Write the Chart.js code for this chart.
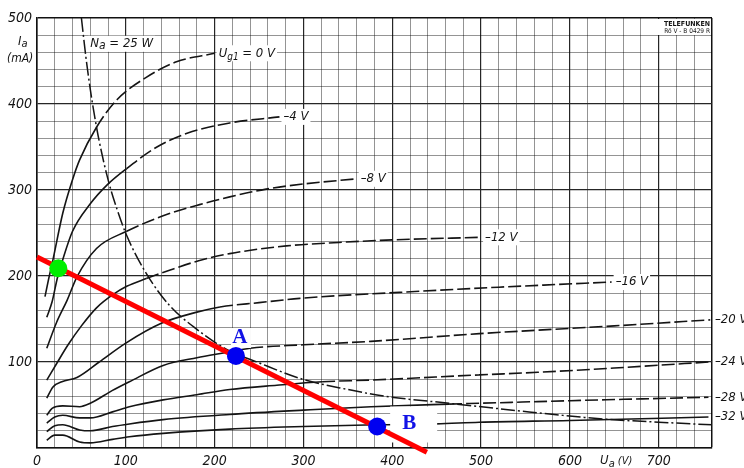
<!DOCTYPE html>
<html><head><meta charset="utf-8">
<script src="https://cdn.jsdelivr.net/npm/chart.js@4.4.1/dist/chart.umd.min.js"></script>
<style>html,body{margin:0;padding:0;background:#fff;}canvas{display:block;}</style>
</head><body>
<canvas id="c" width="744" height="468"></canvas>
<script>
// ---- data (Ua in V, Ia in mA) ----
const xTickValues = [0, 100, 200, 300, 400, 500, 600, 700];
const yTickValues = [100, 200, 300, 400, 500];
const gridVoltages = [0, -4, -8, -12, -16, -20, -24, -28, -32];

const ug0  = [[9,176],[13,196],[18,219],[29,273],[40,312],[48,335],[67,373],[90,405],[123,431],[157,449],[200,459]];
const ug4  = [[11,152],[17,170],[23,198],[29,219],[40,252],[60,284],[79,306],[101,325],[135,350],[169,366],[217,378],[273,385]];
const ug8  = [[11,116],[22,146],[34,172],[45,199],[67,232],[101,252],[142,270],[183,283],[217,292],[258,301],[300,307],[360,313]];
const ug12 = [[11,79],[22,98],[35,120],[50,142],[67,163],[85,178],[101,188],[123,197],[150,207],[183,218],[217,226],[281,235],[340,239],[400,242],[500,245]];
const ug16 = [[11,58],[18,71],[28,77],[45,82],[70,100],[100,122],[140,145],[180,158],[206,164],[250,169],[296,174],[408,181],[520,187],[647,193]];
const ug20 = [[11,38],[17,46],[29,49],[48,48],[60,52],[85,67],[104,77],[142,96],[180,105],[213,111],[240,116],[300,120],[376,124],[498,133],[564,137],[650,142],[758,149]];
const ug24 = [[11,29],[20,36],[29,38],[48,35],[60,35],[85,42],[104,48],[142,56],[180,62],[217,68],[270,73],[321,77],[376,79],[498,85],[564,88],[650,93],[756,100]];
const ug28 = [[11,19],[20,26],[29,27],[48,21],[60,20],[85,25],[104,28],[142,33],[217,39],[300,44],[376,48],[464,51],[498,52],[600,55],[756,59]];
const ug32 = [[11,9],[20,15],[29,15],[48,7],[60,6],[85,10],[104,13],[142,17],[217,22],[300,25],[382,27],[450,28],[498,30],[600,32],[756,36]];
const dashStart = [67, 85, 101, 110, 195, 225, 320, 450, 99999];

const na25 = [[50,500],[55,455],[60,417],[65,385],[70,357],[80,312],[90,278],[101,247],[123,203],[149,166],[180,138],[213,115],[250,99],[299,80],[350,68],[393,60],[464,52],[554,42],[634,34],[700,30],[760,27]];

const loadLine = [[0,222],[439,-5]];
const pointGreen = [[24,209]];
const pointA = [[224,107]];
const pointB = [[383,25]];

// ---- build ----
const curves = [ug0, ug4, ug8, ug12, ug16, ug20, ug24, ug28, ug32];
const toXY = a => a.map(p => ({x: p[0], y: p[1]}));
const FONT = "'DejaVu Sans Condensed','Liberation Sans Narrow','DejaVu Sans',sans-serif";
const fnt = (s, st) => `${st || 'italic'} ${s}px ${FONT}`;
const INK = '#141414';

const datasets = [];
curves.forEach((c, i) => {
  const ds = dashStart[i];
  datasets.push({
    data: toXY(c), borderColor: INK, borderWidth: 1.6, pointRadius: 0,
    cubicInterpolationMode: 'monotone', fill: false, order: 10,
    segment: { borderDash: ctx => (ctx.p0.parsed.x >= ds - 0.01 ? [13, 4] : []) }
  });
});
datasets.push({
  data: toXY(na25), borderColor: INK, borderWidth: 1.5, pointRadius: 0,
  cubicInterpolationMode: 'monotone', fill: false, order: 10, borderDash: [14, 3, 2, 3]
});
const LOAD_INDEX = datasets.length;
datasets.push({
  data: toXY(loadLine), borderColor: '#ff0000', borderWidth: 5, pointRadius: 0,
  fill: false, order: 5, clip: false
});
const dot = (pts, col) => ({
  data: toXY(pts), showLine: false, pointRadius: 9, pointHoverRadius: 9,
  pointBackgroundColor: col, pointBorderWidth: 0, order: 1, clip: false
});
datasets.push(dot(pointGreen, '#00ee00'));
datasets.push(dot(pointA, '#0000f0'));
datasets.push(dot(pointB, '#0000f0'));

function rich(ctx, parts, x, y, bg) {
  ctx.save();
  ctx.textBaseline = 'middle'; ctx.textAlign = 'left';
  let w = 0;
  parts.forEach(p => { ctx.font = fnt(p[1]); w += ctx.measureText(p[0]).width; });
  if (bg) { ctx.fillStyle = '#fff'; ctx.fillRect(x - 2, y - 8, w + 4, 16); }
  ctx.fillStyle = INK;
  let cx = x;
  parts.forEach(p => { ctx.font = fnt(p[1]); ctx.fillText(p[0], cx, y + (p[2] || 0)); cx += ctx.measureText(p[0]).width; });
  ctx.restore();
}

const decor = {
  id: 'decor',
  beforeDatasetDraw(chart, args) {
    if (args.index !== LOAD_INDEX) return;
    const ctx = chart.ctx, xs = chart.scales.x, ys = chart.scales.y, ca = chart.chartArea;
    curves.forEach((c, i) => {
      const e = c[c.length - 1];
      let x = xs.getPixelForValue(e[0]) + 4;
      if (x > ca.right - 6) x = ca.right + 3;
      const y = ys.getPixelForValue(e[1]);
      const v = gridVoltages[i];
      if (v === 0) rich(ctx, [['U', 13], ['g1', 10, 4], [' = 0 V', 13]], x, y, true);
      else rich(ctx, [['\u2013' + Math.abs(v) + ' V', 13]], x, y, x < ca.right);
    });
    rich(ctx, [['N', 13], ['a', 12, 2], [' = 25 W', 13]], xs.getPixelForValue(60), ys.getPixelForValue(470), true);
    ctx.save();
    ctx.fillStyle = '#fff';
    const ax = xs.getPixelForValue(pointA[0][0]), ay = ys.getPixelForValue(pointA[0][1]);
    ctx.fillRect(ax - 5, ay - 28, 20, 20);
    const bx = xs.getPixelForValue(pointB[0][0]), by = ys.getPixelForValue(pointB[0][1]);
    ctx.fillRect(bx + 13, by - 20, 47, 36);
    ctx.fillRect(ca.right - 56, ca.top + 1, 55, 16);
    ctx.fillStyle = INK;
    ctx.textAlign = 'right'; ctx.textBaseline = 'middle';
    ctx.font = `bold 7px ${FONT}`;
    ctx.fillText('TELEFUNKEN', ca.right - 2, ca.top + 6);
    ctx.font = `6.5px ${FONT}`;
    ctx.fillText('R\u00f6 V - B 0429 R', ca.right - 2, ca.top + 13);
    ctx.restore();
  },
  afterDatasetsDraw(chart) {
    const ctx = chart.ctx, xs = chart.scales.x, ys = chart.scales.y;
    ctx.save();
    ctx.fillStyle = '#1212e6';
    ctx.font = "bold 21px 'Liberation Serif','DejaVu Serif',serif";
    ctx.textAlign = 'center'; ctx.textBaseline = 'middle';
    ctx.fillText('A', xs.getPixelForValue(pointA[0][0]) + 4, ys.getPixelForValue(pointA[0][1]) - 18);
    ctx.fillText('B', xs.getPixelForValue(pointB[0][0]) + 32, ys.getPixelForValue(pointB[0][1]) - 3);
    ctx.restore();
  },
  afterDraw(chart) {
    const ctx = chart.ctx, ys = chart.scales.y, xs = chart.scales.x, ca = chart.chartArea;
    rich(ctx, [['I', 13], ['a', 11, 3]], ca.left - 19, ys.getPixelForValue(473), false);
    rich(ctx, [['(mA)', 12]], ca.left - 30, ys.getPixelForValue(452), false);
    rich(ctx, [['U', 13], ['a', 11, 3], [' (V)', 11]], xs.getPixelForValue(634), ca.bottom + 13, false);
  }
};

const gridCol = (v, max) => (v === 0 || v === max) ? '#111' : (v % 100 === 0 ? '#262626' : 'rgba(0,0,0,0.42)');
const gridW = (v, max) => (v === max) ? 1.5 : (v % 100 === 0 ? 1.2 : 1);

new Chart(document.getElementById('c'), {
  type: 'line',
  data: { datasets },
  plugins: [decor],
  options: {
    responsive: false, animation: false, devicePixelRatio: 1,
    layout: { padding: { top: 18, right: 32, left: 0, bottom: 0 } },
    plugins: { legend: { display: false }, tooltip: { enabled: false } },
    events: [],
    scales: {
      x: {
        type: 'linear', min: 0, max: 760,
        ticks: { stepSize: 20, autoSkip: false, maxRotation: 0, padding: 5, color: INK,
          font: { family: FONT, size: 14, style: 'italic' },
          callback: v => xTickValues.includes(v) ? String(v) : '' },
        grid: { drawTicks: false, color: c => gridCol(c.tick.value, 760), lineWidth: c => gridW(c.tick.value, 760) },
        border: { display: true, color: '#111', width: 1.6 },
        afterFit: s => { s.height = 20; }
      },
      y: {
        type: 'linear', min: 0, max: 500,
        ticks: { stepSize: 20, autoSkip: false, padding: 5, color: INK,
          font: { family: FONT, size: 14, style: 'italic' },
          callback: v => yTickValues.includes(v) ? String(v) : '' },
        grid: { drawTicks: false, color: c => gridCol(c.tick.value, 500), lineWidth: c => gridW(c.tick.value, 500) },
        border: { display: true, color: '#111', width: 1.6 },
        afterFit: s => { s.width = 37; }
      }
    }
  }
});
</script>
</body></html>
